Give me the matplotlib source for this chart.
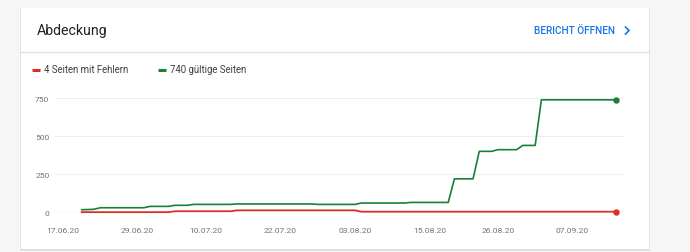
import matplotlib.pyplot as plt
import matplotlib.dates as mdates
from matplotlib.patches import Rectangle
from matplotlib.lines import Line2D
import numpy as np
import datetime as dt

plt.rcParams['font.family'] = ['Roboto', 'DejaVu Sans']

# daily data, 20.06.20 .. 14.09.20
start = dt.date(2020, 6, 20)
valid = ([17, 18, 20] + [30] * 8 + [39] * 4 + [46] * 3 + [52] * 7 + [55] * 13
         + [52] * 7 + [61] * 8 + [65] * 7 + [220] * 4 + [401] * 3 + [412] * 4
         + [440] * 3 + [740] * 13)
errors = [1] * 15 + [7] * 10 + [13] * 20 + [4] * 42
dates = [start + dt.timedelta(days=i) for i in range(len(valid))]

tick_dates = ["17.06.20", "29.06.20", "10.07.20", "22.07.20",
              "03.08.20", "15.08.20", "26.08.20", "07.09.20"]
y_ticks = [0, 250, 500, 750]

green = "#188038"
red = "#d93025"
W, H = 690, 253

fig = plt.figure(figsize=(W / 100, H / 100), dpi=100)
fig.patch.set_facecolor("#f6f6f6")

def fx(x):
    return x / W

def fy(y):
    return 1 - y / H

# card with soft shadow
for off, col in [(2.0, "#e4e4e4"), (1.0, "#dadada")]:
    fig.add_artist(Rectangle((fx(21 - off * 0.3), fy(250 + off)), fx(628 + off * 0.6), (240 + off * 1.5) / H,
                             transform=fig.transFigure, facecolor=col, edgecolor="none", zorder=0))
fig.add_artist(Rectangle((fx(21), fy(250)), fx(628), 241 / H, transform=fig.transFigure,
                         facecolor="white", edgecolor="none", zorder=0.5))
fig.add_artist(Line2D([fx(21), fx(649)], [fy(53), fy(53)], transform=fig.transFigure,
                      color="#e0e0e0", lw=1))

fig.text(fx(37), fy(31.5), "Abdeckung", fontsize=10.2, color="#202124", va="center", ha="left")
fig.text(fx(615.5), fy(31.5), "BERICHT ÖFFNEN", fontsize=7.2, color="#1a73e8",
         fontweight="medium", va="center", ha="right")
fig.add_artist(Line2D([fx(625.5), fx(629), fx(625.5)], [fy(28), fy(31.5), fy(35)],
                      transform=fig.transFigure, color="#1a73e8", lw=1.2))

# legend
fig.add_artist(Line2D([fx(32), fx(40)], [fy(70.5), fy(70.5)], transform=fig.transFigure,
                      color=red, lw=2.2, solid_capstyle="butt"))
fig.text(fx(44), fy(70.5), "4 Seiten mit Fehlern", fontsize=6.9, color="#3c4043", va="center")
fig.add_artist(Line2D([fx(158), fx(166)], [fy(70.5), fy(70.5)], transform=fig.transFigure,
                      color=green, lw=2.2, solid_capstyle="butt"))
fig.text(fx(170), fy(70.5), "740 gültige Seiten", fontsize=6.9, color="#3c4043", va="center")

# plot area: x 55..624 px, y 213.3 (0) .. 99.3 (750)
ax = fig.add_axes([fx(55), fy(213.3), fx(624 - 55), (213.3 - 99.3) / H])
ax.set_facecolor("none")
ax.set_zorder(2)

d0 = dt.date(2020, 6, 17)
ax.set_xlim(mdates.date2num(d0) - 1.3, mdates.date2num(d0) + 90.3)
ax.set_ylim(0, 750)

ax.plot(dates, valid, color=green, lw=1.2, clip_on=False, zorder=3)
ax.plot(dates, errors, color=red, lw=1.3, clip_on=False, zorder=3)
ax.plot(dates[-1], valid[-1], "o", color=green, ms=3.6, clip_on=False, zorder=4)
ax.plot(dates[-1], errors[-1], "o", color=red, ms=3.6, clip_on=False, zorder=4)

for s in ax.spines.values():
    s.set_visible(False)
ax.set_yticks(y_ticks)
ax.set_yticklabels([str(v) for v in y_ticks])
ax.grid(axis="y", color="#eeeeee", lw=0.8)
ax.set_axisbelow(True)
ax.axhline(0, color="#9e9e9e", lw=0.8, zorder=1)

ax.set_xticks([mdates.date2num(dt.datetime.strptime(t, "%d.%m.%y")) for t in tick_dates])
ax.set_xticklabels(tick_dates)
ax.tick_params(axis="both", length=0, labelsize=6.1, labelcolor="#757575")
ax.tick_params(axis="x", pad=10.5)
ax.tick_params(axis="y", pad=4)

fig.savefig("out.png", dpi=100, facecolor=fig.get_facecolor())
